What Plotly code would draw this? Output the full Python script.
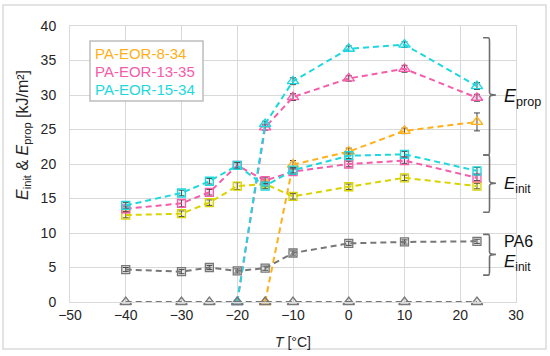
import plotly.graph_objects as go

# ---------------- data ----------------
T_all = [-40, -30, -25, -20, -15, -10, 0, 10, 23]

init_8_34 = [12.6, 12.8, 14.4, 16.8, 17.1, 15.3, 16.7, 18.0, 16.8]
init_8_34_err = [0.4, 0.4, 0.4, 0.5, 0.3, 0.4, 0.4, 0.4, 0.4]
init_13_35 = [13.5, 14.3, 15.9, 19.8, 17.6, 18.9, 20.0, 20.5, 18.0]
init_13_35_err = [0.4, 0.5, 0.4, 0.4, 0.4, 0.4, 0.4, 0.4, 0.4]
init_15_34 = [14.0, 15.8, 17.5, 19.8, 16.8, 19.1, 21.2, 21.4, 19.0]
init_15_34_err = [0.4, 0.4, 0.4, 0.4, 0.4, 0.4, 0.4, 0.4, 0.5]
init_pa6 = [4.7, 4.4, 5.0, 4.5, 4.9, 7.1, 8.5, 8.7, 8.8]
init_pa6_err = [0.3, 0.3, 0.3, 0.3, 0.3, 0.3, 0.3, 0.3, 0.3]

T_prop_8_34 = [-15, -10, 0, 10, 23]
prop_8_34 = [0.0, 19.9, 21.8, 24.8, 26.1]
prop_8_34_err = [0.0, 0.6, 0.5, 0.4, 1.3]
T_prop_13_35 = [-20, -15, -10, 0, 10, 23]
prop_13_35 = [0.0, 25.3, 29.7, 32.4, 33.8, 29.6]
prop_13_35_err = [0.0, 0.4, 0.5, 0.4, 0.5, 0.5]
T_prop_15_34 = [-20, -15, -10, 0, 10, 23]
prop_15_34 = [0.0, 25.8, 32.0, 36.7, 37.3, 31.3]
prop_15_34_err = [0.0, 0.4, 0.5, 0.4, 0.4, 0.5]
prop_pa6 = [0, 0, 0, 0, 0, 0, 0, 0, 0]

legend_names = ["PA-EOR-8-34", "PA-EOR-13-35", "PA-EOR-15-34"]

# ---------------- styles ----------------
C_ORANGE = "#FFB019"
C_YELLOW = "#D9D400"
C_PINK = "#F55CAA"
C_CYAN = "#1ED8DE"
C_GREY = "#777777"
FONT = "Liberation Sans, Arial, sans-serif"

W, H = 550, 356
ML, MR, MT, MB = 70, 34, 26, 54
PW, PH = W - ML - MR, H - MT - MB


def px(x):
    return (x - ML) / PW


def py(y):
    return (H - MB - y) / PH


def rgba(hexc, a):
    h = hexc.lstrip("#")
    return "rgba(%d,%d,%d,%.2f)" % (int(h[0:2], 16), int(h[2:4], 16), int(h[4:6], 16), a)


fig = go.Figure()


def add(x, y, err, color, symbol, size):
    fig.add_trace(go.Scatter(
        x=x, y=y, mode="lines+markers",
        line=dict(color=color, width=2, dash="6px,4px"),
        marker=dict(symbol=symbol, size=size, color=rgba(color, 0.15),
                    line=dict(color=color, width=1.3)),
        error_y=dict(type="data", array=err, visible=err is not None, color="#444444",
                     thickness=1, width=3),
        showlegend=False, cliponaxis=False,
    ))


add(T_prop_8_34, prop_8_34, prop_8_34_err, C_ORANGE, "triangle-up", 10)
add(T_prop_13_35, prop_13_35, prop_13_35_err, C_PINK, "triangle-up", 10)
add(T_prop_15_34, prop_15_34, prop_15_34_err, C_CYAN, "triangle-up", 10)
add(T_all, init_8_34, init_8_34_err, C_YELLOW, "square", 8)
add(T_all, init_13_35, init_13_35_err, C_PINK, "square", 8)
add(T_all, init_15_34, init_15_34_err, C_CYAN, "square", 8)
add(T_all, init_pa6, init_pa6_err, C_GREY, "square", 8)
add(T_all, prop_pa6, None, C_GREY, "triangle-up", 10)

# ---------------- brackets ----------------
brackets = [  # (top, mid, bottom) in data units
    (38.3, 30.0, 21.3),
    (21.3, 17.2, 13.0),
    (9.8, 6.9, 3.9),
]
xv, xl, xr = 25.25, 24.1, 26.4
r = 0.6
shapes = []
for top, mid, bot in brackets:
    path = (f"M {xl},{top} L {xv-0.2},{top} Q {xv},{top} {xv},{top-r} "
            f"L {xv},{mid+r*0.6} Q {xv},{mid} {xr},{mid} Q {xv},{mid} {xv},{mid-r*0.6} "
            f"L {xv},{bot+r} Q {xv},{bot} {xv-0.2},{bot} L {xl},{bot}")
    shapes.append(dict(type="path", path=path, xref="x", yref="y",
                       line=dict(color="#6E6E6E", width=1.6)))

# legend box
shapes.append(dict(type="rect", xref="paper", yref="paper",
                   x0=px(90), x1=px(203), y0=py(101), y1=py(41),
                   line=dict(color="#BDBDBD", width=1.5), fillcolor="white", layer="above"))
# outer frame
shapes.append(dict(type="rect", xref="paper", yref="paper",
                   x0=px(3), x1=px(546), y0=py(349), y1=py(5),
                   line=dict(color="#DADADA", width=1.5)))

annotations = []
for name, col, yy in zip(legend_names, [C_ORANGE, C_PINK, C_CYAN], [53.5, 71.5, 89.5]):
    annotations.append(dict(text=name, x=px(93), y=py(yy), xref="paper", yref="paper",
                            xanchor="left", yanchor="middle", showarrow=False,
                            font=dict(family=FONT, size=15, color=col)))

side = [
    ("<i>E</i><sub>prop</sub>", 97, 18),
    ("<i>E</i><sub>init</sub>", 185, 17),
    ("PA6", 241, 16),
    ("<i>E</i><sub>init</sub>", 263, 17),
]
for txt, yy, fs in side:
    annotations.append(dict(text=txt, x=px(502), y=py(yy), xref="paper", yref="paper",
                            xanchor="left", yanchor="middle", showarrow=False,
                            font=dict(family=FONT, size=fs, color="#111111")))

annotations.append(dict(text="<i>T</i> [°C]", x=0.5, y=py(341.5), xref="paper", yref="paper",
                        xanchor="center", yanchor="middle", showarrow=False,
                        font=dict(family=FONT, size=14, color="#262626")))
annotations.append(dict(text="<i>E</i><sub>init</sub> & <i>E</i><sub>prop</sub> [kJ/m²]",
                        x=px(23), y=py(135), xref="paper", yref="paper", textangle=-90,
                        xanchor="center", yanchor="middle", showarrow=False,
                        font=dict(family=FONT, size=16, color="#262626")))

axis_common = dict(showgrid=True, gridcolor="#D9D9D9", gridwidth=1, zeroline=False,
                   showline=True, linecolor="#D9D9D9", linewidth=1, mirror=True,
                   tickfont=dict(family=FONT, size=14, color="#262626"), ticks="")

fig.update_layout(
    width=W, height=H, autosize=False,
    margin=dict(l=ML, r=MR, t=MT, b=MB),
    paper_bgcolor="white", plot_bgcolor="white",
    xaxis=dict(range=[-50, 30], dtick=10, tick0=0, **axis_common),
    yaxis=dict(range=[0, 40], dtick=5, tick0=0, ticklabelstandoff=10, **axis_common),
    shapes=shapes, annotations=annotations, showlegend=False,
)

fig.write_html("out.html", config={"displayModeBar": False},
               post_script="document.body.style.margin='0';document.body.style.padding='0';document.body.style.overflow='hidden';")
